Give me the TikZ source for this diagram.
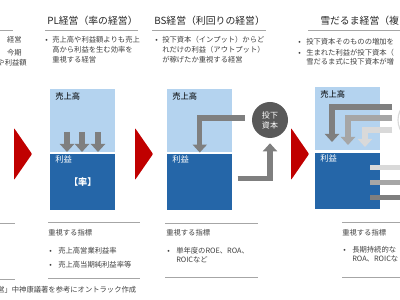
\documentclass[tikz,border=0pt]{standalone}
\usepackage{fontspec}
\setmainfont{Noto Sans CJK JP}
\usetikzlibrary{arrows.meta}

\definecolor{txtgray}{HTML}{404040}
\definecolor{ttlgray}{HTML}{262626}
\definecolor{rulegray}{HTML}{A6A6A6}
\definecolor{salesblue}{HTML}{B4D3EF}
\definecolor{profitblue}{HTML}{2566A8}
\definecolor{chevred}{HTML}{C00000}
\definecolor{capgray}{HTML}{595959}
\definecolor{arrdark}{HTML}{7F7F7F}
\definecolor{arrmid}{HTML}{A6A6A6}
\definecolor{arrlight}{HTML}{D9D9D9}

\tikzset{
  body/.style={font=\fontsize{5.2}{6}\selectfont, text=txtgray, inner sep=0pt, anchor=base west},
  ttl/.style={font=\fontsize{7}{8}\selectfont, text=ttlgray, inner sep=0pt, anchor=base west},
  boxlbl/.style={font=\fontsize{5.9}{7}\selectfont, inner sep=0pt, anchor=base west},
  hrule/.style={draw=rulegray, line width=0.7pt},
  salesbox/.style={fill=salesblue, minimum width=1.625cm, minimum height=1.575cm, inner sep=0pt, anchor=north west},
  profitbox/.style={fill=profitblue, minimum width=1.625cm, minimum height=1.4cm, inner sep=0pt, anchor=north west},
  chevron/.style={fill=chevred, rounded corners=0.6pt},
  capcircle/.style={circle, fill=capgray, minimum size=0.9cm, inner sep=0pt, text=white, font=\fontsize{5.7}{7.1}\selectfont, align=center},
  fatarrow/.style={draw=#1, line width=0.13cm, -{Triangle[width=0.35cm,length=0.2cm]}},
  fatarrow/.default=arrdark,
  flowbar/.style={draw=#1, line width=0.125cm},
}

\begin{document}
\begin{tikzpicture}[x=0.025cm, y=-0.025cm]
  \useasboundingbox (0,0) rectangle (400,300);
  \clip (0,0) rectangle (400,300);

  % column cut at the left edge
  \draw[hrule] (0,30) -- (13,30);
  \node[body, anchor=base east] (old-t1) at (22,43) {経営};
  \node[body, anchor=base east] (old-t2) at (22,56) {今期};
  \node[body, anchor=base east] (old-t3) at (27,66) {や利益額};
  \draw[hrule] (0,223) -- (15,223);
  \draw[hrule] (0,279) -- (15,279);

  % chevrons
  \foreach \cx in {14,135,291}
    \fill[chevron] (\cx,128) -- (\cx+18,154) -- (\cx,180) -- cycle;

  % PL
  \node[ttl] (pl-title) at (47,25) {PL経営（率の経営）};
  \draw[hrule] (45,30) -- (138,30);
  \node[body] (pl-dot) at (45,43) {•};
  \node[body] (pl-t1) at (52,43) {売上高や利益額よりも売上};
  \node[body] (pl-t2) at (52,53) {高から利益を生む効率を};
  \node[body] (pl-t3) at (52,63) {重視する経営};

  \node[salesbox] (pl-sales) at (50,89) {};
  \node[profitbox] (pl-profit) at (50,154) {};
  \node[boxlbl] (pl-sales-lbl) at ([shift={(5,11)}]pl-sales.north west) {売上高};
  \node[boxlbl, text=white] (pl-profit-lbl) at ([shift={(5,9)}]pl-profit.north west) {利益};
  \node[font=\fontsize{6.5}{7}\selectfont\bfseries, text=white] (pl-rate) at (pl-profit.center) {【率】};
  \foreach \ax in {67,82,98}
    \draw[fatarrow] (\ax,132) -- (\ax,152);

  \draw[hrule] (48,222) -- (140,222);
  \node[body] (pl-kpi) at (48,236) {重視する指標};
  \node[body] (pl-kd1) at (49,254) {•};
  \node[body] (pl-k1) at (58,254) {売上高営業利益率};
  \node[body] (pl-kd2) at (49,268) {•};
  \node[body] (pl-k2) at (58,268) {売上高当期純利益率等};
  \draw[hrule] (48,278) -- (140,278);

  % BS
  \node[ttl] (bs-title) at (154,25) {BS経営（利回りの経営）};
  \draw[hrule] (152,30) -- (266,30);
  \node[body] (bs-dot) at (155,43) {•};
  \node[body] (bs-t1) at (162,43) {投下資本（インプット）からど};
  \node[body] (bs-t2) at (162,53) {れだけの利益（アウトプット）};
  \node[body] (bs-t3) at (162,63) {が稼げたか重視する経営};

  \node[salesbox] (bs-sales) at (167,89) {};
  \node[profitbox] (bs-profit) at (167,154) {};
  \node[boxlbl] (bs-sales-lbl) at ([shift={(5,11)}]bs-sales.north west) {売上高};
  \node[boxlbl, text=white] (bs-profit-lbl) at ([shift={(5,9)}]bs-profit.north west) {利益};
  \node[capcircle] (bs-cap) at (270,120) {投下\\資本};
  \draw[fatarrow] ([shift={(-7,-2)}]bs-cap.west) -| (bs-sales.south);
  \draw[fatarrow] ([shift={(5,-4)}]bs-profit.east) -| ([shift={(0,5)}]bs-cap.south);

  \draw[hrule] (165,223) -- (258,223);
  \node[body] (bs-kpi) at (166,236) {重視する指標};
  \node[body] (bs-kd1) at (167,254) {•};
  \node[body] (bs-k1) at (176,254) {単年度のROE、ROA、};
  \node[body] (bs-k2) at (176,263) {ROICなど};
  \draw[hrule] (165,277) -- (258,277);

  % snowball
  \node[ttl] (sb-title) at (320,25) {雪だるま経営（複};
  \draw[hrule] (308,30) -- (400,30);
  \node[body] (sb-dot1) at (298,45) {•};
  \node[body] (sb-t1) at (306,45) {投下資本そのものの増加を};
  \node[body] (sb-dot2) at (298,56) {•};
  \node[body] (sb-t2) at (306,56) {生まれた利益が投下資本（};
  \node[body] (sb-t3) at (306,65) {雪だるま式に投下資本が増};

  \node[salesbox] (sb-sales) at (315,87) {};
  \node[profitbox] (sb-profit) at (315,153) {};
  \node[boxlbl] (sb-sales-lbl) at ([shift={(5,11)}]sb-sales.north west) {売上高};
  \node[boxlbl, text=white] (sb-profit-lbl) at ([shift={(5,9)}]sb-profit.north west) {利益};
  \node[circle, fill=white, draw=arrlight, line width=0.8pt, minimum size=1.1cm] (sb-cap) at (420,120) {};
  \draw[fatarrow=arrdark] ([shift={(-5,-13)}]sb-cap.west) -| ([shift={(17,55)}]sb-sales.north west);
  \draw[fatarrow=arrmid] ([shift={(-5,-2)}]sb-cap.west) -| ([shift={(33,58)}]sb-sales.north west);
  \draw[fatarrow=arrlight] ([shift={(-5,10)}]sb-cap.west) -| ([shift={(50,60)}]sb-sales.north west);
  \draw[flowbar=arrlight] ([shift={(55,15)}]sb-profit.north west) -| (sb-cap.south);
  \draw[flowbar=arrmid] ([shift={(55,30)}]sb-profit.north west) -| ([xshift=10pt]sb-cap.south);
  \draw[flowbar=arrdark] ([shift={(55,45)}]sb-profit.north west) -| ([xshift=20pt]sb-cap.south);

  \draw[hrule] (342,222) -- (400,222);
  \node[body] (sb-kpi) at (342,236) {重視する指標};
  \node[body] (sb-kd1) at (343,253) {•};
  \node[body] (sb-k1) at (352,253) {長期持続的な};
  \node[body] (sb-k2) at (352,262) {ROA、ROICな};
  \draw[hrule] (342,277) -- (400,277);

  % source
  \node[body] (src) at (-3,293) {営」中神康議著を参考にオントラック作成};
\end{tikzpicture}
\end{document}
